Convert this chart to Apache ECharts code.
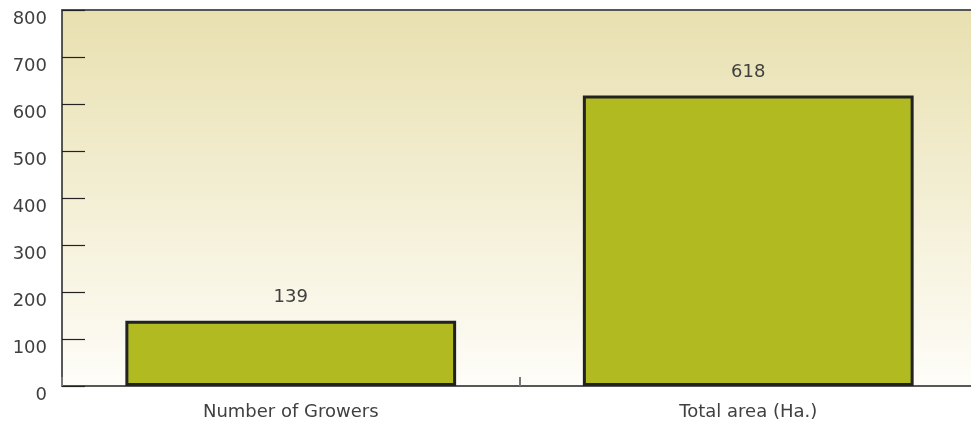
<!DOCTYPE html>
<html>
<head>
<meta charset="utf-8">
<script src="https://cdn.jsdelivr.net/npm/echarts@6/dist/echarts.min.js"></script>
<style>html,body{margin:0;padding:0;background:#fff;overflow:hidden}#c{width:977px;height:425px}</style>
</head>
<body>
<div id="c"></div>
<script>
const categories = ["Number of Growers", "Total area (Ha.)"];
const values = [139, 618];
const yTicks = [0, 100, 200, 300, 400, 500, 600, 700, 800];

const FONT = "'DejaVu Sans', sans-serif";
const TXT = '#404040';
const chart = echarts.init(document.getElementById('c'), null, {renderer: 'canvas'});
chart.setOption({
  animation: false,
  grid: {
    left: 62, right: 0, top: 10, bottom: 39,
    show: true, borderWidth: 0,
    backgroundColor: new echarts.graphic.LinearGradient(0, 0, 0, 1, [
      {offset: 0, color: '#e8e0b0'},
      {offset: 1, color: '#fefdf8'}
    ])
  },
  xAxis: [{
    type: 'category',
    data: categories,
    axisLine: {lineStyle: {color: '#222', width: 1.5}},
    axisTick: {show: true, inside: true, length: 9, lineStyle: {color: '#777', width: 2}},
    axisLabel: {color: TXT, fontSize: 18, fontFamily: FONT, margin: 17}
  }, {
    type: 'category',
    data: categories,
    position: 'top',
    axisLine: {lineStyle: {color: '#555', width: 2}},
    axisTick: {show: false},
    axisLabel: {show: false}
  }],
  yAxis: {
    type: 'value',
    min: 0, max: 800, interval: 100,
    axisLine: {show: true, lineStyle: {color: '#222', width: 1.5}},
    axisTick: {show: true, inside: true, length: 23, lineStyle: {color: '#222', width: 1.2}},
    splitLine: {show: false},
    axisLabel: {color: TXT, fontSize: 18, fontFamily: FONT, margin: 15,
      verticalAlign: 'top', lineHeight: 18,
      formatter: v => yTicks.includes(v) ? String(v) : ''}
  },
  series: [{
    type: 'bar',
    data: values,
    barWidth: '72.3%',
    itemStyle: {color: '#b1bb21', borderColor: '#222', borderWidth: 3},
    label: {show: true, position: 'top', distance: 14, color: TXT, fontSize: 18, fontFamily: FONT}
  }]
});
</script>
</body>
</html>
